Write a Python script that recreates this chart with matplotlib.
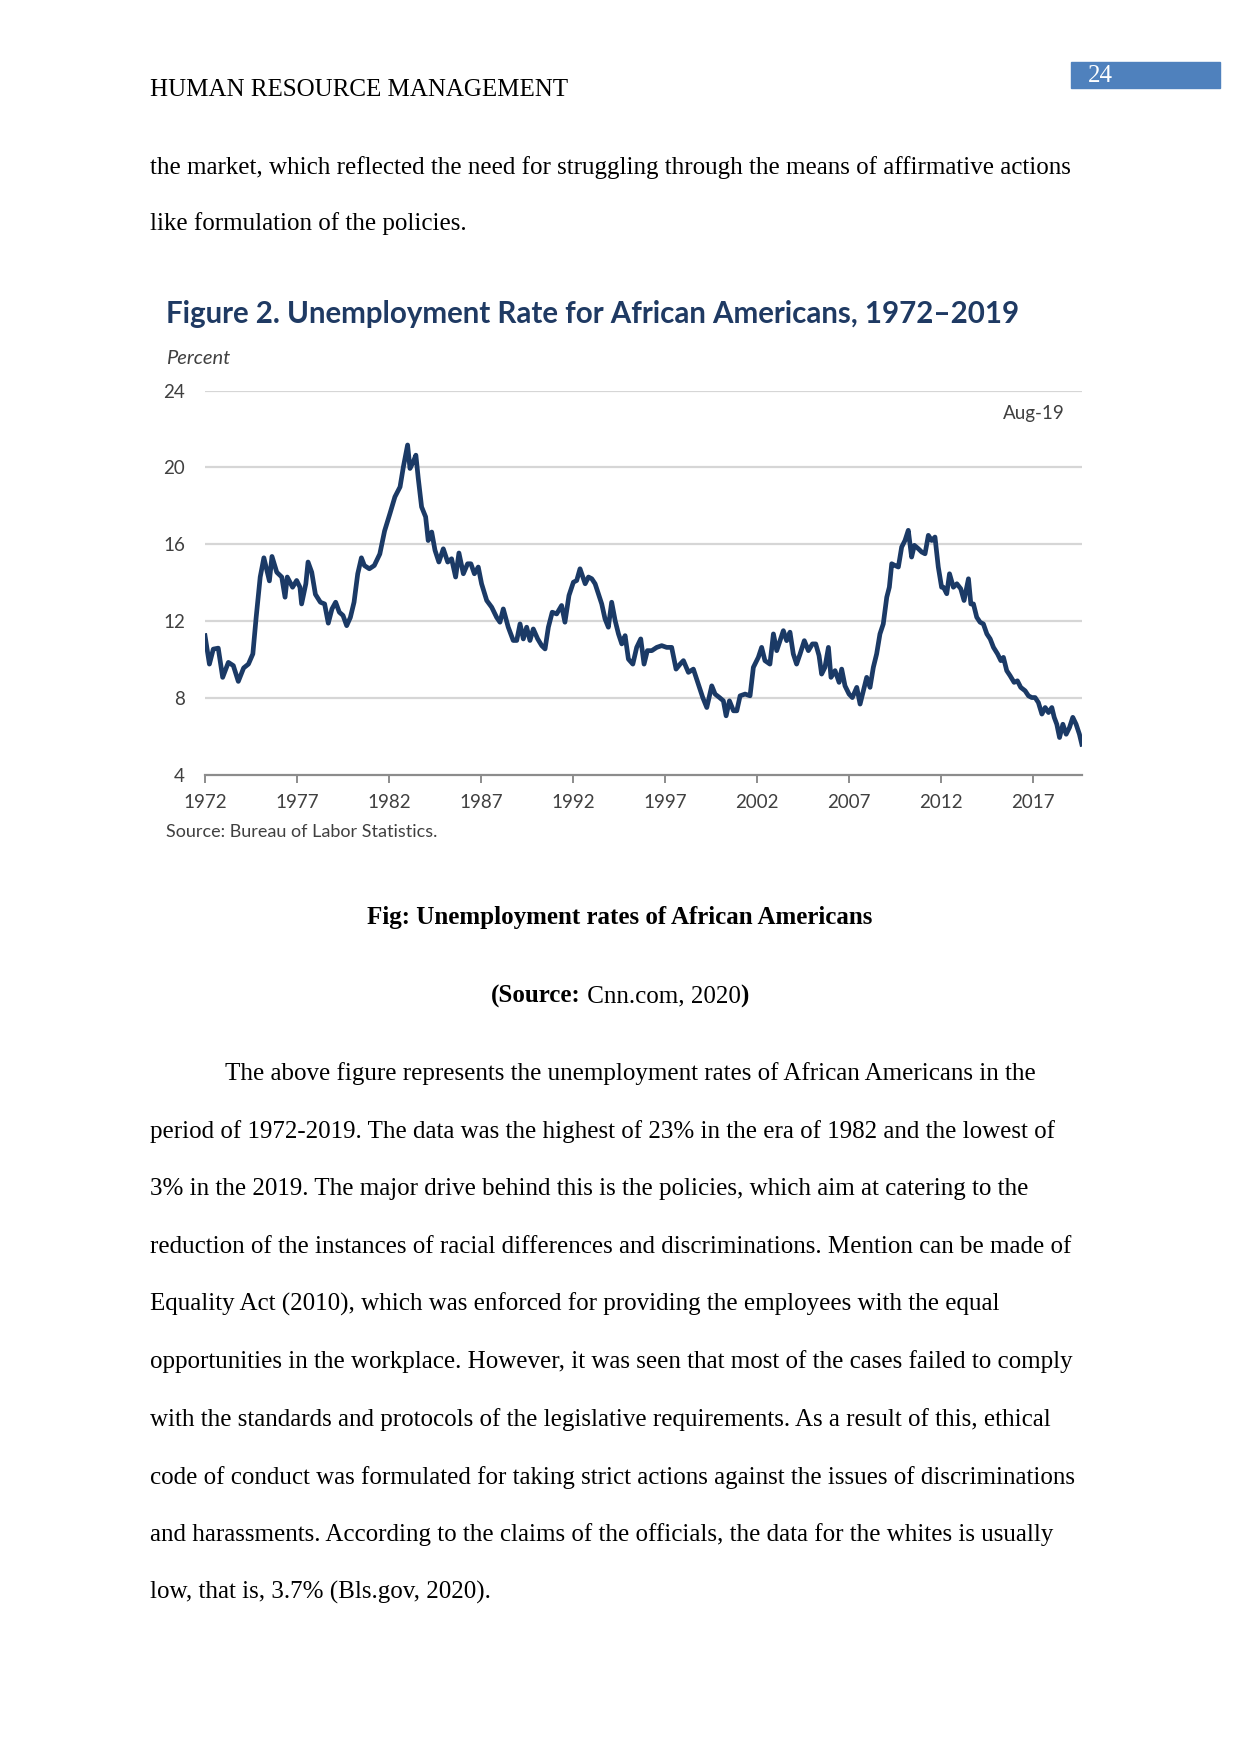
import numpy as np
import matplotlib
matplotlib.use("Agg")
import matplotlib.pyplot as plt
from matplotlib.patches import Rectangle

# values (decimal year, percent)
years = [1972.0, 1972.24, 1972.45, 1972.72, 1972.96, 1973.27, 1973.54, 1973.81, 1974.1, 1974.36,
         1974.6, 1974.78, 1975.0, 1975.2, 1975.5, 1975.64, 1975.9, 1976.17, 1976.35, 1976.47,
         1976.76, 1976.98, 1977.16, 1977.25, 1977.48, 1977.6, 1977.8, 1978.0, 1978.27, 1978.5,
         1978.7, 1978.9, 1979.1, 1979.3, 1979.5, 1979.7, 1979.9, 1980.1, 1980.3, 1980.5,
         1980.66, 1980.93, 1981.2, 1981.5, 1981.76, 1982.05, 1982.32, 1982.6, 1982.78, 1983.01,
         1983.14, 1983.32, 1983.46, 1983.59, 1983.77, 1983.99, 1984.13, 1984.32, 1984.5, 1984.71,
         1984.95, 1985.19, 1985.4, 1985.62, 1985.8, 1986.04, 1986.27, 1986.45, 1986.64, 1986.85,
         1987.03, 1987.31, 1987.58, 1987.85, 1988.03, 1988.21, 1988.48, 1988.75, 1988.94, 1989.12,
         1989.3, 1989.48, 1989.66, 1989.84, 1990.08, 1990.3, 1990.48, 1990.66, 1990.87, 1991.11,
         1991.38, 1991.56, 1991.78, 1992.02, 1992.2, 1992.38, 1992.66, 1992.84, 1993.02, 1993.2,
         1993.38, 1993.56, 1993.74, 1993.92, 1994.1, 1994.29, 1994.47, 1994.65, 1994.83, 1995.01,
         1995.25, 1995.46, 1995.68, 1995.86, 1996.04, 1996.28, 1996.55, 1996.82, 1997.09, 1997.36,
         1997.6, 1997.82, 1998.0, 1998.27, 1998.54, 1998.81, 1999.05, 1999.27, 1999.54, 1999.72,
         1999.96, 2000.17, 2000.32, 2000.5, 2000.72, 2000.9, 2001.08, 2001.35, 2001.62, 2001.8,
         2002.07, 2002.25, 2002.43, 2002.7, 2002.89, 2003.07, 2003.25, 2003.43, 2003.61, 2003.79,
         2003.97, 2004.15, 2004.34, 2004.57, 2004.79, 2005.01, 2005.19, 2005.37, 2005.51, 2005.69,
         2005.88, 2006.02, 2006.24, 2006.46, 2006.6, 2006.78, 2007.0, 2007.18, 2007.42, 2007.6,
         2007.78, 2007.96, 2008.14, 2008.32, 2008.5, 2008.68, 2008.86, 2009.05, 2009.19, 2009.32,
         2009.5, 2009.68, 2009.86, 2010.04, 2010.22, 2010.4, 2010.55, 2010.77, 2010.95, 2011.13,
         2011.31, 2011.49, 2011.67, 2011.85, 2012.03, 2012.13, 2012.31, 2012.46, 2012.67, 2012.86,
         2013.07, 2013.25, 2013.49, 2013.62, 2013.76, 2013.94, 2014.12, 2014.3, 2014.49, 2014.67,
         2014.85, 2015.07, 2015.25, 2015.39, 2015.57, 2015.75, 2015.97, 2016.15, 2016.33, 2016.57,
         2016.75, 2016.93, 2017.11, 2017.29, 2017.48, 2017.66, 2017.84, 2018.02, 2018.15, 2018.29,
         2018.44, 2018.62, 2018.8, 2018.98, 2019.16, 2019.34, 2019.52, 2019.65]
rates = [11.25, 9.77, 10.55, 10.6, 9.08, 9.86, 9.69, 8.87, 9.57, 9.77,
         10.3, 12.2, 14.3, 15.3, 14.1, 15.37, 14.55, 14.3, 13.25, 14.3,
         13.77, 14.12, 13.77, 12.9, 13.95, 15.08, 14.55, 13.4, 12.99, 12.9,
         11.9, 12.64, 12.99, 12.47, 12.3, 11.77, 12.2, 12.99, 14.47, 15.3,
         14.9, 14.73, 14.9, 15.5, 16.7, 17.6, 18.47, 18.99, 20.03, 21.17,
         19.95, 20.3, 20.64, 19.43, 17.95, 17.43, 16.2, 16.64, 15.69, 15.08,
         15.77, 15.08, 15.25, 14.3, 15.55, 14.47, 14.99, 14.99, 14.47, 14.82,
         13.95, 13.08, 12.73, 12.2, 11.95, 12.64, 11.69, 11.0, 11.0, 11.86,
         11.08, 11.69, 11.0, 11.6, 11.08, 10.73, 10.56, 11.69, 12.47, 12.38,
         12.82, 11.95, 13.34, 14.03, 14.12, 14.73, 13.95, 14.3, 14.21, 13.95,
         13.43, 12.9, 12.12, 11.69, 12.99, 12.03, 11.34, 10.82, 11.25, 10.03,
         9.77, 10.64, 11.08, 9.77, 10.47, 10.47, 10.64, 10.73, 10.64, 10.64,
         9.51, 9.77, 9.95, 9.34, 9.51, 8.73, 8.03, 7.51, 8.64, 8.21,
         8.03, 7.86, 7.08, 7.86, 7.34, 7.34, 8.12, 8.21, 8.12, 9.6,
         10.12, 10.64, 9.95, 9.77, 11.34, 10.47, 10.99, 11.51, 10.99, 11.43,
         10.3, 9.77, 10.3, 10.99, 10.47, 10.82, 10.82, 10.21, 9.25, 9.6,
         10.64, 9.08, 9.43, 8.82, 9.51, 8.64, 8.21, 8.03, 8.56, 7.69,
         8.38, 9.08, 8.56, 9.6, 10.3, 11.34, 11.86, 13.25, 13.77, 14.99,
         14.9, 14.82, 15.86, 16.2, 16.73, 15.34, 15.95, 15.77, 15.6, 15.51,
         16.47, 16.2, 16.38, 14.82, 13.77, 13.77, 13.43, 14.47, 13.77, 13.95,
         13.69, 13.08, 14.21, 12.9, 12.9, 12.21, 11.95, 11.86, 11.34, 11.08,
         10.64, 10.3, 9.95, 10.12, 9.43, 9.17, 8.82, 8.9, 8.56, 8.38,
         8.12, 8.03, 8.03, 7.77, 7.17, 7.51, 7.25, 7.51, 7.0, 6.64,
         5.95, 6.64, 6.12, 6.47, 7.0, 6.64, 6.12, 5.6]

xticks = [1972, 1977, 1982, 1987, 1992, 1997, 2002, 2007, 2012, 2017]
yticks = [4, 8, 12, 16, 20, 24]

body_lines = [
    "The above figure represents the unemployment rates of African Americans in the",
    "period of 1972-2019. The data was the highest of 23% in the era of 1982 and the lowest of",
    "3% in the 2019. The major drive behind this is the policies, which aim at catering to the",
    "reduction of the instances of racial differences and discriminations. Mention can be made of",
    "Equality Act (2010), which was enforced for providing the employees with the equal",
    "opportunities in the workplace. However, it was seen that most of the cases failed to comply",
    "with the standards and protocols of the legislative requirements. As a result of this, ethical",
    "code of conduct was formulated for taking strict actions against the issues of discriminations",
    "and harassments. According to the claims of the officials, the data for the whites is usually",
    "low, that is, 3.7% (Bls.gov, 2020).",
]

W, H = 1241, 1754
fig = plt.figure(figsize=(W / 100, H / 100), dpi=100)
fig.patch.set_facecolor("white")

serif = "Liberation Serif"
sans = "Lato"
body_fs = 18.0


def put(x, y, s, **kw):
    # place text using pixel coords measured from the top-left of the page
    return fig.text(x / W, 1 - y / H, s, **kw)


# page header
put(150, 90, "HUMAN RESOURCE MANAGEMENT", family=serif, fontsize=body_fs, va="center")
fig.patches.append(Rectangle((1071 / W, 1 - 88 / H), 149 / W, 26 / H,
                             transform=fig.transFigure, color="#4f81bd"))
put(1088, 76, "24", family=serif, fontsize=body_fs, color="white", va="center")

put(150, 168, "the market, which reflected the need for struggling through the means of affirmative actions",
    family=serif, fontsize=body_fs, va="center")
put(150, 224, "like formulation of the policies.", family=serif, fontsize=body_fs, va="center")

# chart
navy = "#1b3a66"
ax = fig.add_axes([205 / W, 1 - 775 / H, 877 / W, (775 - 390.6) / H])
ax.plot(years, rates, color=navy, lw=3.4, solid_joinstyle="round")
ax.set_xlim(1972, 2019.66)
ax.set_ylim(4, 24)
ax.set_yticks(yticks)
ax.set_xticks(xticks)
ax.set_yticklabels([str(v) for v in yticks], family=sans, fontsize=13.5, color="#404040")
ax.set_xticklabels([str(v) for v in xticks], family=sans, fontsize=13.5, color="#404040")
for v in yticks[1:]:
    ax.axhline(v, color="#d6d6d6", lw=1.6, zorder=0)
for side in ["top", "right", "left"]:
    ax.spines[side].set_visible(False)
ax.spines["bottom"].set_color("#8c8c8c")
ax.spines["bottom"].set_linewidth(1.6)
ax.tick_params(axis="y", length=0, pad=14.5)
ax.tick_params(axis="x", length=6, width=1.4, color="#8c8c8c", pad=8)
ax.set_facecolor("none")

put(166, 314, "Figure 2. Unemployment Rate for African Americans, 1972\u20132019",
    family=sans, fontsize=21.25, weight="bold", color="#1f3a63", va="center")
put(166, 358, "Percent", family=sans, fontsize=14.5, style="italic", color="#404040", va="center")
put(1065, 413, "Aug-19", family=sans, fontsize=13.5, color="#404040", va="center", ha="right")
put(166, 832, "Source: Bureau of Labor Statistics.", family=sans, fontsize=13, color="#404040", va="center")

# caption
put(620, 918, "Fig: Unemployment rates of African Americans", family=serif, fontsize=body_fs,
    weight="bold", va="center", ha="center")

# mixed bold / regular source line, centred
pieces = [("(Source:", "bold"), (" Cnn.com, 2020", "normal"), (")", "bold")]
fig.canvas.draw()
r = fig.canvas.get_renderer()
arts = [put(0, 996, s, family=serif, fontsize=body_fs, weight=wt, va="center") for s, wt in pieces]
widths = [a.get_window_extent(r).width for a in arts]
x = 620 - sum(widths) / 2
for a, w in zip(arts, widths):
    a.set_x(x / W)
    x += w

# body paragraph
y0, step = 1074, 57.6
for i, line in enumerate(body_lines):
    put(225 if i == 0 else 150, y0 + i * step, line, family=serif, fontsize=body_fs, va="center")

fig.savefig("out.png", dpi=100, facecolor="white")
